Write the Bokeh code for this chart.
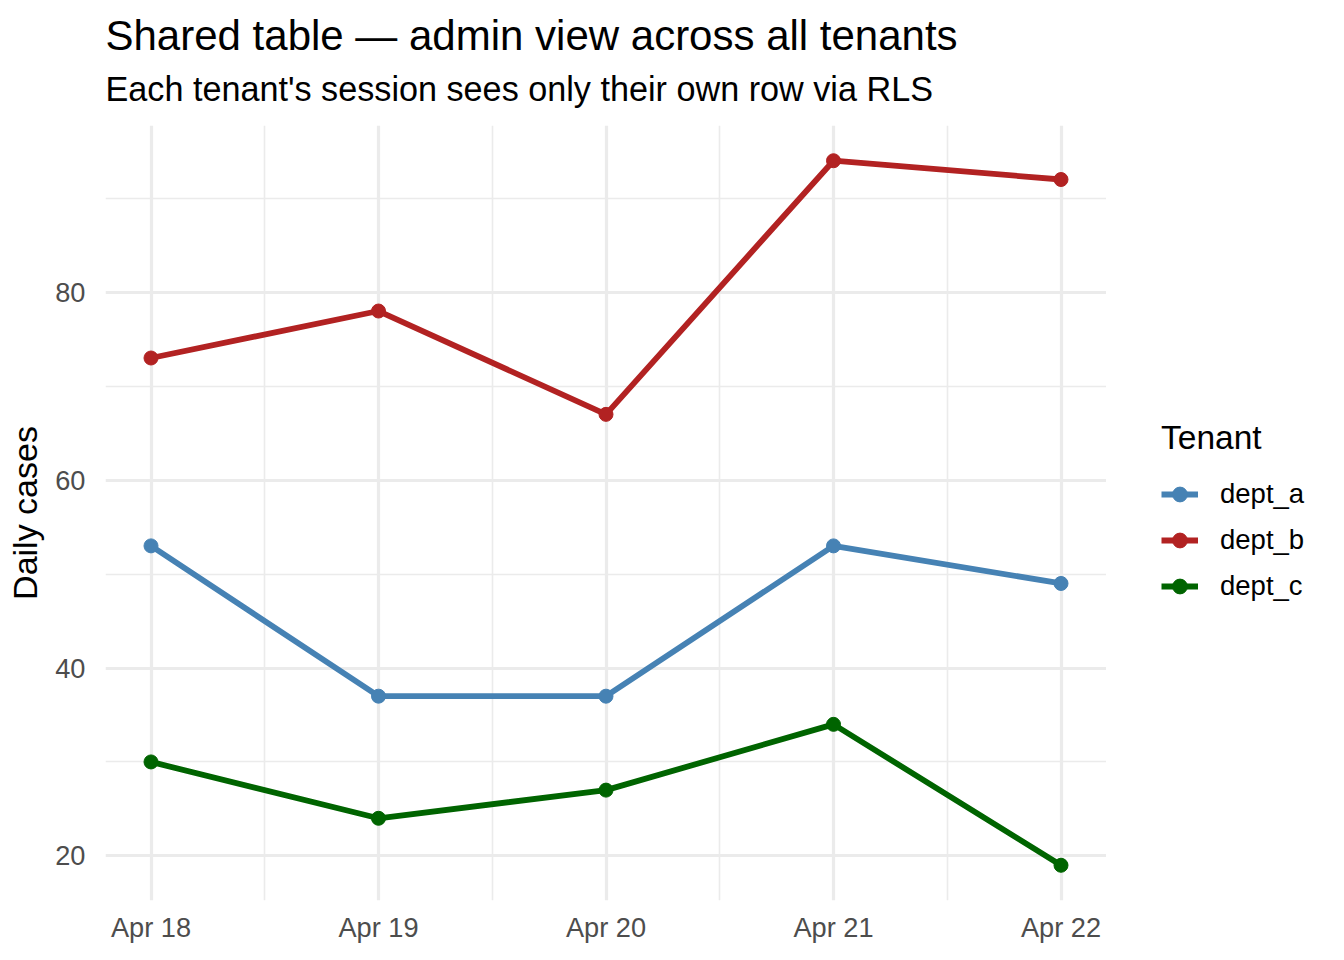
import pandas as pd
from bokeh.plotting import figure
from bokeh.layouts import row
from bokeh.models import (ColumnDataSource, Range1d, FixedTicker,
                          DatetimeTickFormatter, Legend, LegendItem, Title)
from bokeh.embed import file_html
from bokeh.resources import INLINE

# ---- data ----
dates = ["2024-04-18", "2024-04-19", "2024-04-20", "2024-04-21", "2024-04-22"]
tenants = ["dept_a", "dept_b", "dept_c"]
dept_a = [53, 37, 37, 53, 49]
dept_b = [73, 78, 67, 94, 92]
dept_c = [30, 24, 27, 34, 19]
colors = ["#4682B4", "#B22222", "#006400"]
y_ticks = [20, 40, 60, 80]
y_minor = [30, 50, 70, 90]
title_text = "Shared table \u2014 admin view across all tenants"
subtitle_text = "Each tenant's session sees only their own row via RLS"
y_label = "Daily cases"
legend_title = "Tenant"

FONT = "Liberation Sans"

x = pd.to_datetime(dates)
x_ms = [d.value / 1e6 for d in x]
series = {"dept_a": dept_a, "dept_b": dept_b, "dept_c": dept_c}

all_y = dept_a + dept_b + dept_c
ypad = (max(all_y) - min(all_y)) * 0.05
xpad = (x_ms[-1] - x_ms[0]) * 0.05

p = figure(frame_width=1001, frame_height=775, x_axis_type="datetime",
           output_backend="svg", toolbar_location=None,
           x_range=Range1d(x_ms[0] - xpad, x_ms[-1] + xpad),
           y_range=Range1d(min(all_y) - ypad, max(all_y) + ypad),
           min_border_left=105, min_border_right=0,
           min_border_top=125, min_border_bottom=43)
p.outline_line_color = None
p.background_fill_color = "white"
p.border_fill_color = "white"

# titles (first added = closest to the frame; p.title is outermost)
p.add_layout(Title(text=" ", text_font=FONT, text_font_size="1px", standoff=14.7), "above")
p.add_layout(Title(text=subtitle_text, text_font=FONT, text_font_size="34.2px",
                   text_font_style="normal", text_color="black", standoff=0), "above")
p.title.text = title_text
p.title.text_font = FONT
p.title.text_font_size = "42px"
p.title.text_font_style = "normal"
p.title.text_color = "black"
p.title.standoff = 18

# axes
mids = [(a + b) / 2 for a, b in zip(x_ms[:-1], x_ms[1:])]
p.xaxis.ticker = FixedTicker(ticks=x_ms, minor_ticks=mids)
p.xaxis.formatter = DatetimeTickFormatter(days="%b %d", hours="%b %d", months="%b %d",
                                          minutes="%b %d", hourmin="%b %d")
p.yaxis.ticker = FixedTicker(ticks=y_ticks, minor_ticks=y_minor)
for ax in (p.xaxis, p.yaxis):
    ax.axis_line_color = None
    ax.major_tick_line_color = None
    ax.minor_tick_line_color = None
    ax.major_tick_out = 0
    ax.major_tick_in = 0
    ax.major_label_text_font = FONT
    ax.major_label_text_font_size = "27.2px"
    ax.major_label_text_color = "#4D4D4D"
p.xaxis.major_label_standoff = 7
p.yaxis.major_label_standoff = 16
p.yaxis.axis_label = y_label
p.yaxis.axis_label_text_font = FONT
p.yaxis.axis_label_text_font_size = "34px"
p.yaxis.axis_label_text_font_style = "normal"
p.yaxis.axis_label_text_color = "black"
p.yaxis.axis_label_standoff = 8

for g in (p.xgrid, p.ygrid):
    g.grid_line_color = "#EBEBEB"
    g.grid_line_width = 3.2
    g.minor_grid_line_color = "#EBEBEB"
    g.minor_grid_line_width = 1.6

sources = {}
for name, col in zip(tenants, colors):
    src = ColumnDataSource(dict(x=x_ms, y=series[name]))
    sources[name] = src
    p.line("x", "y", source=src, line_color=col, line_width=5.8)
    p.scatter("x", "y", source=src, size=14, fill_color=col, line_color=col)

# ---- legend panel (separate small figure placed to the right) ----
lg = figure(width=222, height=948, output_backend="svg", toolbar_location=None,
            x_axis_location=None, y_axis_location=None,
            x_range=Range1d(0, 1), y_range=Range1d(0, 1),
            min_border_left=0, min_border_right=0, min_border_top=0, min_border_bottom=0)
lg.outline_line_color = None
lg.grid.visible = False
lg.background_fill_color = "white"
lg.border_fill_color = "white"

items = []
for name, col in zip(tenants, colors):
    # same series, outside this panel's ranges: only its legend key is visible
    lr = lg.line("x", "y", source=sources[name], line_color=col, line_width=5.8)
    sr = lg.scatter("x", "y", source=sources[name], size=14, fill_color=col, line_color=col)
    items.append(LegendItem(label=name, renderers=[lr, sr]))

legend = Legend(items=items, title=legend_title, location=(55, 294),
                margin=0, padding=0, spacing=0,
                glyph_width=37, glyph_height=46, label_standoff=22,
                label_text_font=FONT, label_text_font_size="27.5px", label_text_color="black",
                title_text_font=FONT, title_text_font_size="33.5px", title_text_font_style="normal",
                title_text_color="black", title_standoff=14,
                border_line_color=None, background_fill_alpha=0)
lg.add_layout(legend, "center")

layout = row(p, lg, spacing=0)
open("out.html", "w").write(file_html(layout, INLINE))
